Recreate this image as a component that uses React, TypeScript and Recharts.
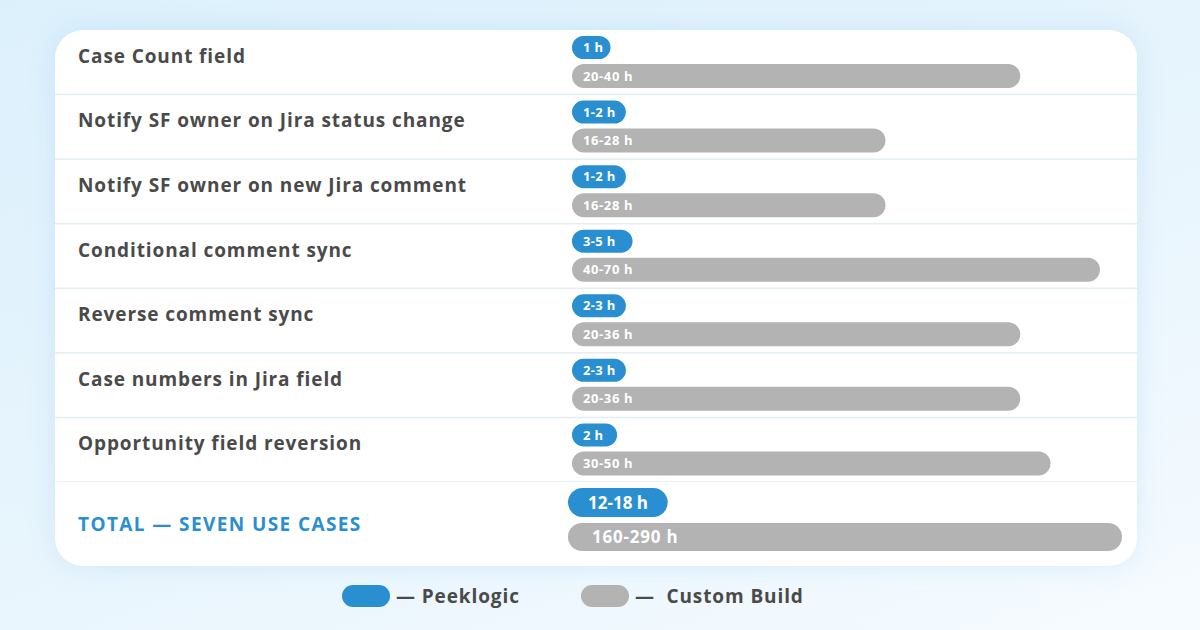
import { BarChart, Bar, XAxis, YAxis, LabelList } from 'recharts';

// rows
const categories = [
  'Case Count field',
  'Notify SF owner on Jira status change',
  'Notify SF owner on new Jira comment',
  'Conditional comment sync',
  'Reverse comment sync',
  'Case numbers in Jira field',
  'Opportunity field reversion',
];
const peeklogicLabels = ['1 h', '1-2 h', '1-2 h', '3-5 h', '2-3 h', '2-3 h', '2 h'];
const customLabels = ['20-40 h', '16-28 h', '16-28 h', '40-70 h', '20-36 h', '20-36 h', '30-50 h'];
// bar lengths (0-100 of the track)
const peeklogicBar = [7, 9.8, 9.8, 11, 9.8, 9.8, 8.2];
const customBar = [81.5, 57, 57, 96, 81.5, 81.5, 87];

// total row
const totalName = 'TOTAL — SEVEN USE CASES';
const totalPeeklogicLabel = '12-18 h';
const totalCustomLabel = '160-290 h';
const totalPeeklogicBar = 18;
const totalCustomBar = 100;

const BLUE = '#2a8fd0';
const GRAY = '#b3b3b3';
const TEXT = '#4a4a4a';
const LINE = '#e3edf4';
const FONT = '"Open Sans", sans-serif';

const CARD_W = 1082;
const ROWS_H = 452;
const TOTAL_H = 84;

const rowData = categories.map((name, i) => ({
  name,
  peeklogic: peeklogicBar[i],
  custom: customBar[i],
  peekLabel: peeklogicLabels[i],
  customLabel: customLabels[i],
}));

const totalData = [
  {
    name: totalName,
    peeklogic: totalPeeklogicBar,
    custom: totalCustomBar,
    peekLabel: totalPeeklogicLabel,
    customLabel: totalCustomLabel,
  },
];

const band = ROWS_H / categories.length;

const RowTick = (props: any) => {
  const { y, payload } = props;
  return (
    <g>
      <text
        x={23}
        y={y + 0.5}
        fill={TEXT}
        fontSize={19}
        fontWeight={700}
        fontFamily={FONT}
        letterSpacing={0.9}
      >
        {payload.value}
      </text>
      <line x1={0} x2={CARD_W} y1={y + band / 2} y2={y + band / 2} stroke={LINE} strokeWidth={1.5} />
    </g>
  );
};

const TotalTick = (props: any) => {
  const { y, payload } = props;
  return (
    <text
      x={23}
      y={y + 11}
      fill={BLUE}
      fontSize={19}
      fontWeight={700}
      fontFamily={FONT}
      letterSpacing={1.4}
    >
      {payload.value}
    </text>
  );
};

const App = () => {
  return (
    <div
      style={{
        position: 'relative',
        width: 1200,
        height: 630,
        overflow: 'hidden',
        fontFamily: FONT,
        background: 'linear-gradient(160deg, #dcf0fc 0%, #e8f5fd 55%, #f6fbff 100%)',
      }}
    >
      <style>{`body { margin: 0; }`}</style>
      <div
        style={{
          position: 'absolute',
          left: 55,
          top: 30,
          width: CARD_W,
          height: ROWS_H + TOTAL_H,
          background: '#ffffff',
          borderRadius: 28,
          boxShadow: '0 0 24px rgba(140, 195, 240, 0.25)',
          overflow: 'hidden',
        }}
      >
        <BarChart
          width={CARD_W}
          height={ROWS_H}
          data={rowData}
          layout="vertical"
          margin={{ top: 0, right: 15, bottom: 0, left: 0 }}
          barGap={5}
        >
          <XAxis type="number" domain={[0, 100]} hide />
          <YAxis
            type="category"
            dataKey="name"
            width={517}
            axisLine={false}
            tickLine={false}
            tick={(p: any) => <RowTick {...p} />}
          />
          <Bar dataKey="peeklogic" fill={BLUE} barSize={23} radius={11.5} isAnimationActive={false}>
            <LabelList
              dataKey="peekLabel"
              position="insideLeft"
              offset={11}
              fill="#ffffff"
              fontSize={13}
              fontWeight={700}
              fontFamily={FONT}
              letterSpacing={0.3}
            />
          </Bar>
          <Bar dataKey="custom" fill={GRAY} barSize={24} radius={12} isAnimationActive={false}>
            <LabelList
              dataKey="customLabel"
              position="insideLeft"
              offset={11}
              fill="#ffffff"
              fontSize={13}
              fontWeight={700}
              fontFamily={FONT}
              letterSpacing={0.6}
            />
          </Bar>
        </BarChart>
        <BarChart
          width={CARD_W}
          height={TOTAL_H}
          data={totalData}
          layout="vertical"
          margin={{ top: 0, right: 15, bottom: 9, left: 0 }}
          barGap={6}
        >
          <XAxis type="number" domain={[0, 100]} hide />
          <YAxis
            type="category"
            dataKey="name"
            width={513}
            axisLine={false}
            tickLine={false}
            tick={(p: any) => <TotalTick {...p} />}
          />
          <Bar dataKey="peeklogic" fill={BLUE} barSize={29} radius={14.5} isAnimationActive={false}>
            <LabelList
              dataKey="peekLabel"
              position="insideLeft"
              offset={20}
              fill="#ffffff"
              fontSize={17}
              fontWeight={700}
              fontFamily={FONT}
            />
          </Bar>
          <Bar dataKey="custom" fill={GRAY} barSize={28} radius={14} isAnimationActive={false}>
            <LabelList
              dataKey="customLabel"
              position="insideLeft"
              offset={24}
              fill="#ffffff"
              fontSize={17}
              fontWeight={700}
              fontFamily={FONT}
              letterSpacing={0.8}
            />
          </Bar>
        </BarChart>
      </div>
      <div
        style={{
          position: 'absolute',
          left: 342,
          top: 583,
          display: 'flex',
          alignItems: 'center',
          color: TEXT,
          fontSize: 19,
          fontWeight: 700,
          letterSpacing: 0.9,
          whiteSpace: 'pre',
        }}
      >
        <span style={{ width: 48, height: 22, borderRadius: 11, background: BLUE, display: 'inline-block' }} />
        <span style={{ marginLeft: 6 }}>{'— Peeklogic'}</span>
        <span
          style={{ width: 48, height: 22, borderRadius: 11, background: GRAY, display: 'inline-block', marginLeft: 61 }}
        />
        <span style={{ marginLeft: 6 }}>{'—  Custom Build'}</span>
      </div>
    </div>
  );
};

export default App;
